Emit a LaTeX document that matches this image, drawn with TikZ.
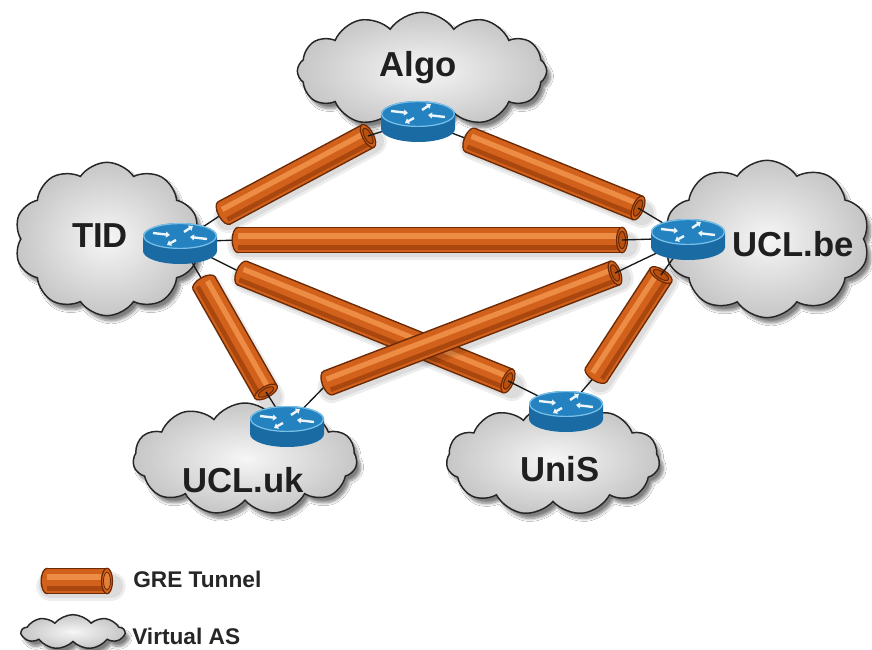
\documentclass[tikz,border=0pt]{standalone}
\usepackage{fontspec}
\setmainfont{Liberation Sans}
\usetikzlibrary{calc,shapes.symbols,shapes.geometric,shadows.blur,arrows.meta}

\definecolor{tubebase}{HTML}{D2611C}
\definecolor{tubelight}{HTML}{EC8C45}
\definecolor{tubedark}{HTML}{A9470F}
\definecolor{tubeline}{HTML}{6B2A05}
\definecolor{tubehole}{HTML}{B8500F}
\definecolor{rtop}{HTML}{2382BF}
\definecolor{rside}{HTML}{1A6BA3}
\definecolor{rrim}{HTML}{79C0E8}
\definecolor{cloudin}{HTML}{F6F6F6}
\definecolor{cloudout}{HTML}{C6C6C6}

\tikzset{
  vas/.style={cloud, cloud ignores aspect, cloud puff arc=112, draw=black!85, line width=1.1pt,
    shading=radial, inner color=cloudin, outer color=cloudout,
    blur shadow={shadow xshift=3pt, shadow yshift=-4pt, shadow blur steps=8, shadow opacity=50}},
  aslabel/.style={anchor=base, inner sep=0pt, text=black!88,
    font=\bfseries\fontsize{26}{30}\selectfont},
  legendtext/.style={anchor=base west, inner sep=0pt, text=black!85,
    font=\bfseries\fontsize{17}{20}\selectfont},
  routerbox/.style={ellipse, minimum width=55.5pt, minimum height=31.5pt, inner sep=0pt},
  wire/.style={draw=black!90, line width=1pt},
  tubeshadow/.style={draw=black, opacity=0.07, line cap=round,
    transform canvas={shift={(3pt,-4pt)}}},
  tubeedge/.style={line width=20pt, draw=tubeline},
  tubebody/.style={line width=17.75pt, draw=tubebase},
  tubehi/.style={line width=4pt, draw=tubelight},
  tubelow/.style={line width=3.5pt, draw=tubedark},
  tubecap/.style={fill=tubebase, draw=tubeline, line width=0.9pt},
  holefill/.style={fill=tubehole, draw=tubeline, line width=0.8pt},
  capface/.style={fill=tubelight!70!tubebase, draw=tubeline, line width=0.6pt},
  routerarrow/.style={draw=white!92!rtop, line width=1.8pt, -{Triangle[length=3pt,width=4.5pt]}},
  pics/router/.style={code={
    \fill[rside] (-37,6) -- (-37,-9)
      arc[start angle=180, end angle=360, x radius=37, y radius=13] -- (37,6) -- cycle;
    \fill[rtop] (0,6) ellipse[x radius=37, y radius=13];
    \draw[rrim, line width=0.9pt] (0,6) ellipse[x radius=36.3, y radius=12.4];
    \draw[routerarrow] (-27,9) -- (-10,7);
    \draw[routerarrow] (27,3) -- (10,5);
    \draw[routerarrow] (4,10) -- (13,16);
    \draw[routerarrow] (-4,2) -- (-13,-3);
  }}
}

% GRE tunnel: closed round end at #2, open end at #3 (its face styled by #1)
\newcommand\gre[3][holefill]{%
  \draw[tubeshadow, line width=22pt] (#2) -- (#3);
  \draw[tubeshadow, line width=18pt] (#2) -- (#3);
  \fill[tubeline] let \p1=($(#3)-(#2)$), \n1={atan2(\y1,\x1)} in
    (#2) ellipse[x radius=6.5, y radius=13.3, rotate=\n1];
  \draw[tubeedge] (#2) -- (#3);
  \fill[tubebase] let \p1=($(#3)-(#2)$), \n1={atan2(\y1,\x1)} in
    (#2) ellipse[x radius=5, y radius=11.8, rotate=\n1];
  \draw[tubebody] (#2) -- (#3);
  \draw[tubehi] ($(#2)!3pt!90:(#3)$) -- ($(#3)!3pt!-90:(#2)$);
  \draw[tubelow] ($(#2)!5.5pt!-90:(#3)$) -- ($(#3)!5.5pt!90:(#2)$);
  \filldraw[tubecap] let \p1=($(#3)-(#2)$), \n1={atan2(\y1,\x1)} in
    (#3) ellipse[x radius=5.5, y radius=12.8, rotate=\n1];
  \filldraw[#1] let \p1=($(#3)-(#2)$), \n1={atan2(\y1,\x1)} in
    (#3) ellipse[x radius=3.5, y radius=8.7, rotate=\n1];
}

\begin{document}
\begin{tikzpicture}[x=0.75pt, y=0.75pt]
  \useasboundingbox (0,0) rectangle (872,650);
  \fill[white] (0,0) rectangle (872,650);

  % virtual ASes
  \node[vas, cloud puffs=12, minimum width=187pt, minimum height=88pt] (calgo) at (422,579) {};
  \node[vas, cloud puffs=10, minimum width=139pt, minimum height=115pt] (ctid) at (107,411) {};
  \node[vas, cloud puffs=10, minimum width=154pt, minimum height=118pt] (cbe) at (767,411) {};
  \node[vas, cloud puffs=11, minimum width=168pt, minimum height=84pt] (cuk) at (245,191) {};
  \node[vas, cloud puffs=11, minimum width=160pt, minimum height=83pt] (cunis) at (553,190) {};

  \node[aslabel] (lalgo) at (418,573) {Algo};
  \node[aslabel] (ltid) at (100,402) {TID};
  \node[aslabel] (lbe) at (793,393) {UCL.be};
  \node[aslabel] (luk) at (243,157) {UCL.uk};
  \node[aslabel] (lunis) at (560,168) {UniS};

  % routers (drawn later, on top)
  \node[routerbox] (ralgo) at (418,530) {};
  \node[routerbox] (rtid) at (180,408) {};
  \node[routerbox] (rbe) at (688,412) {};
  \node[routerbox] (ruk) at (287,225) {};
  \node[routerbox] (runis) at (566,240) {};

  % tunnel end points
  \coordinate (t1a) at (224,437); \coordinate (t1b) at (368,514);
  \coordinate (t2a) at (470,510); \coordinate (t2b) at (638,442);
  \coordinate (t3a) at (238,410); \coordinate (t3b) at (622,410);
  \coordinate (t4a) at (242,377); \coordinate (t4b) at (508,269);
  \coordinate (t5a) at (204,367); \coordinate (t5b) at (266,258);
  \coordinate (t6a) at (328,267); \coordinate (t6b) at (615,377);
  \coordinate (t7a) at (596,275); \coordinate (t7b) at (661,375);

  % wires into the closed ends
  \draw[wire] (rtid.center) -- (t1a);
  \draw[wire] (ralgo.center) -- (t2a);
  \draw[wire] (rtid.center) -- (t3a);
  \draw[wire] (rtid.center) -- (t4a);
  \draw[wire] (rtid.center) -- (t5a);
  \draw[wire] (ruk.center) -- (t6a);
  \draw[wire] (runis.center) -- (t7a);

  % GRE tunnels
  \gre{t1a}{t1b}
  \gre{t2a}{t2b}
  \gre{t3a}{t3b}
  \gre{t5a}{t5b}
  \gre{t7a}{t7b}
  \gre{t4a}{t4b}
  \gre{t6a}{t6b}

  % wires into the open ends
  \draw[wire] (ralgo.center) -- (t1b);
  \draw[wire] (rbe.center) -- (t2b);
  \draw[wire] (rbe.center) -- (t3b);
  \draw[wire] (runis.center) -- (t4b);
  \draw[wire] (ruk.center) -- (t5b);
  \draw[wire] (rbe.center) -- (t6b);
  \draw[wire] (rbe.center) -- (t7b);

  \pic at (ralgo) {router};
  \pic at (rtid) {router};
  \pic at (rbe) {router};
  \pic at (ruk) {router};
  \pic at (runis) {router};

  % legend
  \coordinate (lg1) at (47,69);
  \coordinate (lg2) at (107,69);
  \gre[capface]{lg1}{lg2}
  \node[legendtext] (lgtext) at (133,62) {GRE Tunnel};
  \node[vas, cloud puffs=9, cloud puff arc=100, minimum width=77pt, minimum height=26pt] (lgcloud) at (73,18) {};
  \node[legendtext] (lvtext) at (132,5) {Virtual AS};
\end{tikzpicture}
\end{document}
